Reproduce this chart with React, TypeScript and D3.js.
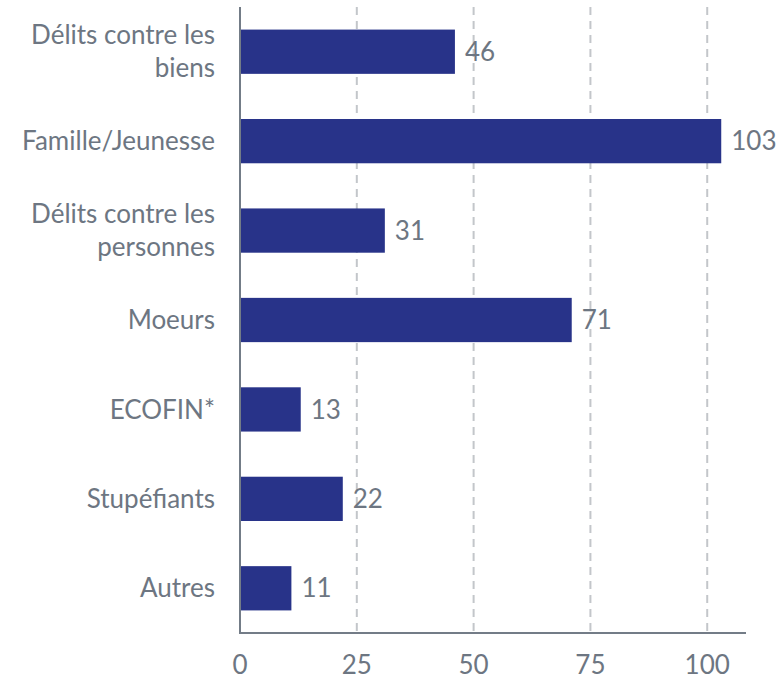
import React from "react";
import * as d3 from "d3";

const categories: string[][] = [
  ["Délits contre les", "biens"],
  ["Famille/Jeunesse"],
  ["Délits contre les", "personnes"],
  ["Moeurs"],
  ["ECOFIN*"],
  ["Stupéfiants"],
  ["Autres"],
];
const values: number[] = [46, 103, 31, 71, 13, 22, 11];
const ticks: number[] = [0, 25, 50, 75, 100];

const W = 784;
const H = 677;
const left = 240;
const right = 746;
const top = 7;
const bottom = 633;
const FONT = "Lato, 'Noto Sans', sans-serif";
const TEXT = "#6d7682";
const BAR = "#283389";
const FS = 26;

export default function App() {
  const x = d3.scaleLinear().domain([0, 108.3]).range([left, right]);
  const y = d3
    .scaleBand<number>()
    .domain(d3.range(values.length))
    .range([top, bottom])
    .paddingInner(0.505)
    .paddingOuter(0.2525);
  const bh = y.bandwidth();
  const lh = 33;
  return (
    <svg width={W} height={H} style={{ position: "absolute", left: 0, top: 0 }} fontFamily={FONT} fontWeight={400}>
      {ticks.slice(1).map((t) => (
        <line key={t} x1={x(t)} x2={x(t)} y1={top} y2={bottom} stroke="#c3c6ca" strokeWidth={2} strokeDasharray="8,6" />
      ))}
      {values.map((v, i) => (
        <g key={i}>
          <rect x={x(0)} y={y(i)} width={x(v) - x(0)} height={bh} fill={BAR} />
          <text x={x(v) + 10} y={(y(i) as number) + bh / 2} dy="0.35em" fontSize={FS} fill={TEXT}>
            {v}
          </text>
          {categories[i].map((line, j) => (
            <text
              key={j}
              x={215}
              y={(y(i) as number) + bh / 2 + (j - (categories[i].length - 1) / 2) * lh}
              dy="0.35em"
              textAnchor="end"
              fontSize={FS}
              fill={TEXT}
            >
              {line}
            </text>
          ))}
        </g>
      ))}
      <line x1={left} x2={left} y1={top} y2={bottom} stroke="#737c87" strokeWidth={2} />
      <line x1={left - 1} x2={right} y1={bottom} y2={bottom} stroke="#737c87" strokeWidth={2} />
      {ticks.map((t) => (
        <text key={t} x={x(t)} y={674} textAnchor="middle" fontSize={FS} fill={TEXT}>
          {t}
        </text>
      ))}
    </svg>
  );
}
